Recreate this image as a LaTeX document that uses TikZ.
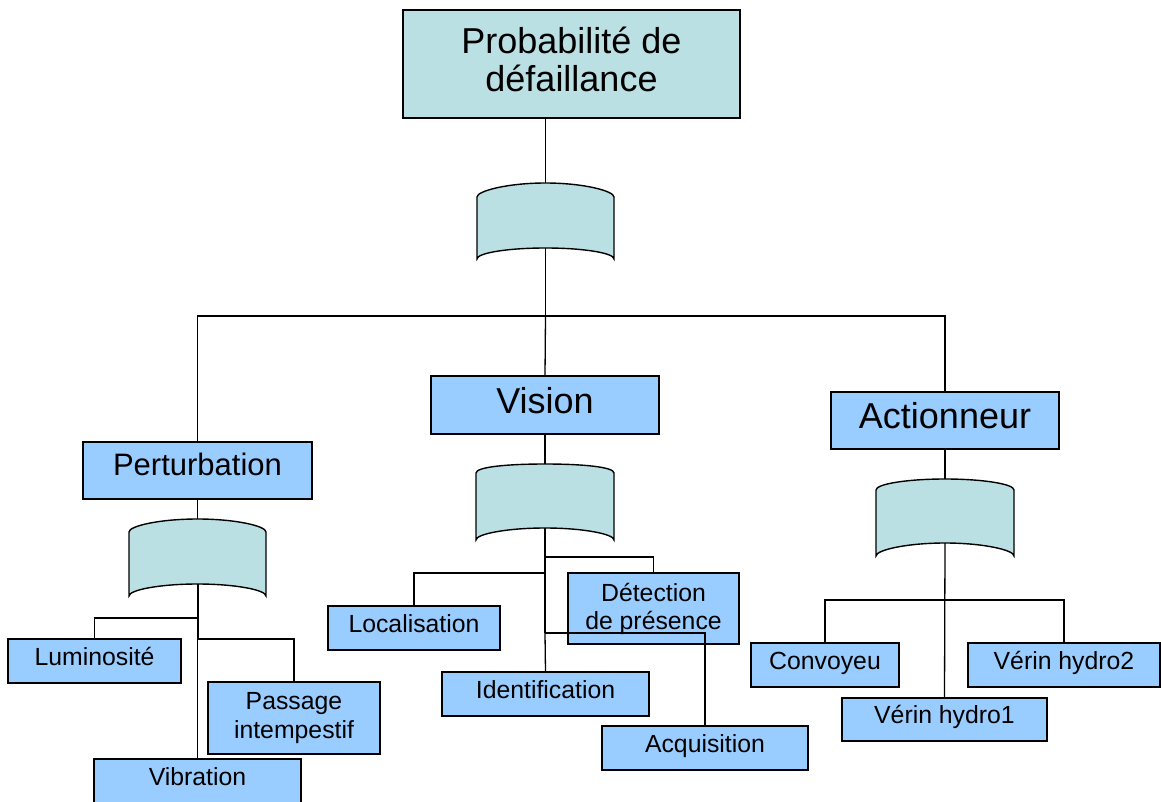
\documentclass[tikz,border=0pt]{standalone}
\usepackage{fontspec}
\setmainfont{Liberation Sans}
\usetikzlibrary{calc}
\definecolor{tealfill}{HTML}{BBE0E3}
\definecolor{bluefill}{HTML}{99CCFF}
\newcommand\gatedraw[3]{%
  \draw[gateshape] (#1.south west) -- (#1.north west)
    .. controls +(0,-6) and +(-38,0) .. ($(#1.north)+(0,-#2)$)
    .. controls +(38,0) and +(0,-6) .. (#1.north east)
    -- (#1.south east)
    .. controls +(0,-6) and +(38,0) .. ($(#1.south)+(0,-#3)$)
    .. controls +(-38,0) and +(0,-6) .. (#1.south west) -- cycle;}
\begin{document}
\begin{tikzpicture}[x=1pt,y=-1pt,
  box/.style={draw=black, line width=1.4pt, fill=bluefill, inner sep=0pt, outer sep=0pt, align=center},
  big/.style={box, font=\fontsize{36}{38}\selectfont, text height=25.9pt, text depth=9.4pt},
  small/.style={box, font=\fontsize{24.8}{29}\selectfont},
  one/.style={text height=17.9pt, text depth=9.2pt},
  gate/.style={draw=none, inner sep=0pt, outer sep=0pt, minimum width=137pt},
  gateshape/.style={draw=black, line width=1.4pt, fill=tealfill},
  conn/.style={draw=black, line width=1.3pt},
  trunk/.style={conn, line width=2pt}]
\useasboundingbox[fill=white] (0,0) rectangle (1161,802);

% top
\node[box, fill=tealfill, minimum width=337pt, minimum height=108pt,
      font=\fontsize{36}{38}\selectfont] (top) at (571.5,64)
      {Probabilité de\\défaillance\rule[-10pt]{0pt}{0pt}};

% gates
\node[gate, minimum height=62pt] (g0) at (545.5,228) {};
\node[gate, minimum height=64pt] (gP) at (197.5,564) {};
\node[gate, minimum height=67pt, minimum width=138pt] (gV) at (545,506.5) {};
\node[gate, minimum height=66pt, minimum width=138pt] (gA) at (945,523) {};
\gatedraw{g0}{14}{11}
\gatedraw{gP}{13}{12}
\gatedraw{gV}{9}{12}
\gatedraw{gA}{11}{13}
\coordinate (g0t) at ($(g0.north)+(0,-14)$);
\coordinate (g0b) at ($(g0.south)+(0,-11)$);
\coordinate (gPt) at ($(gP.north)+(0,-13)$);
\coordinate (gPb) at ($(gP.south)+(0,-12)$);
\coordinate (gVt) at ($(gV.north)+(0,-9)$);
\coordinate (gVb) at ($(gV.south)+(0,-12)$);
\coordinate (gAt) at ($(gA.north)+(0,-11)$);
\coordinate (gAb) at ($(gA.south)+(0,-13)$);

% level 1
\node[big, minimum width=229pt, minimum height=57pt, font=\fontsize{31}{36}\selectfont,
      text height=22.3pt, text depth=12.7pt] (pert) at (197.5,470.5) {Perturbation};
\node[big, minimum width=228pt, minimum height=58pt] (vis) at (545,405) {Vision};
\node[big, minimum width=228pt, minimum height=57pt] (act) at (945,420.5) {Actionneur};

% leaves
\node[small, one, minimum width=173pt, minimum height=44pt] (lum) at (94.5,661) {Luminosité};
\node[small, minimum width=172pt, minimum height=72pt] (pas) at (294,718) {Passage\\intempestif};
\node[small, one, minimum width=207pt, minimum height=44pt] (vib) at (197.5,781) {Vibration};
\node[small, one, minimum width=172pt, minimum height=44pt] (loc) at (414,628) {Localisation};
\node[small, one, minimum width=207pt, minimum height=44pt] (ide) at (545.5,694) {Identification};
\node[small, minimum width=171pt, minimum height=71pt, font=\fontsize{24.8}{28}\selectfont] (det) at (653.5,608.5) {Détection\\de présence};
\node[small, one, minimum width=206pt, minimum height=44pt] (acq) at (705,748) {Acquisition};
\node[small, one, minimum width=148pt, minimum height=44pt] (conv) at (825,665) {Convoyeu};
\node[small, one, minimum width=192pt, minimum height=44pt] (vh2) at (1064,665) {Vérin hydro2};
\node[small, one, minimum width=205pt, minimum height=43pt] (vh1) at (944.5,719.5) {Vérin hydro1};

% junctions
\coordinate (j0) at ($(g0b)+(0,68)$);
\coordinate (jP1) at ($(gPb)+(0,34)$);
\coordinate (jP2) at ($(gPb)+(0,55)$);
\coordinate (jV1) at ($(gVb)+(0,29)$);
\coordinate (jV2) at ($(gVb)+(0,45)$);
\coordinate (jV3) at ($(gVb)+(0,105)$);
\coordinate (jA) at ($(gAb)+(0,57)$);

% connectors
\draw[conn] (top.south -| g0t) -- (g0t);
\draw[conn] (g0b) -- (j0);
\draw[conn] (pert.north) |- (j0) -| (act.north);
\draw[conn] (j0) -- (vis.north);
\draw[conn] (pert.south) -- (gPt);
\draw[conn] (vis.south) -- (gVt);
\draw[conn] (act.south) -- (gAt);

\draw[trunk] (gPb) -- (jP2);
\draw[conn] (jP2) -- (vib.north);
\draw[conn] (jP1) -| (lum.north);
\draw[conn] (jP2) -| (pas.north);

\draw[trunk] (gVb) -- (jV3);
\draw[conn] (jV3) -- (ide.north);
\draw[conn] (jV1) -| (det.north);
\draw[conn] (jV2) -| (loc.north);
\draw[conn] (jV3) -| (acq.north);

\draw[conn] (gAb) -- (vh1.north);
\draw[conn] (jA) -| (conv.north);
\draw[conn] (jA) -| (vh2.north);
\end{tikzpicture}
\end{document}
